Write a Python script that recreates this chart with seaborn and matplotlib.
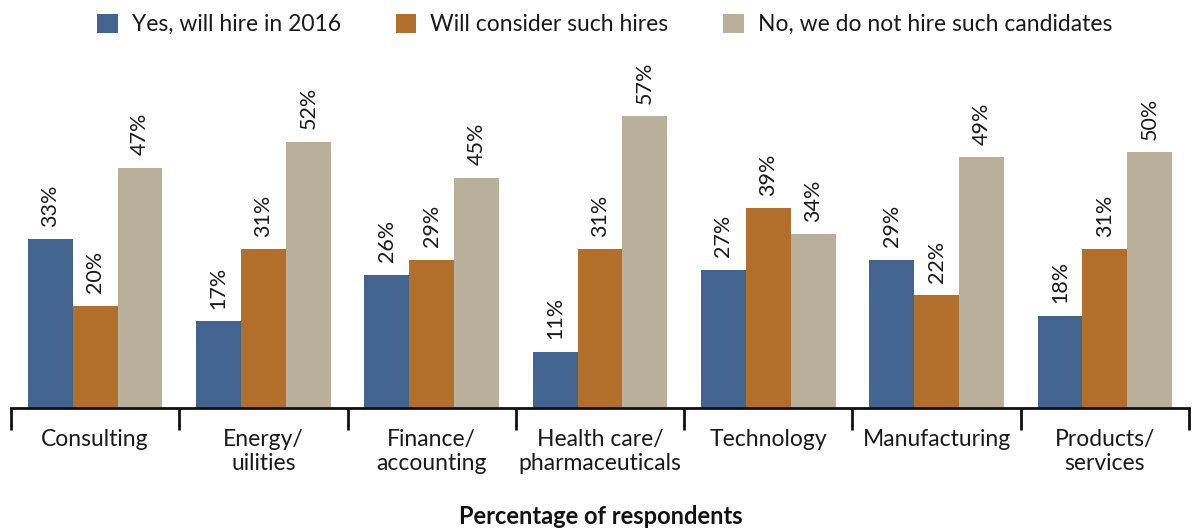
import matplotlib
matplotlib.use("Agg")
import matplotlib.pyplot as plt
import seaborn as sns
import pandas as pd
import numpy as np

categories = ["Consulting", "Energy/\nuilities", "Finance/\naccounting", "Health care/\npharmaceuticals",
              "Technology", "Manufacturing", "Products/\nservices"]
series = ["Yes, will hire in 2016", "Will consider such hires", "No, we do not hire such candidates"]
yes_vals = [33, 17, 26, 11, 27, 29, 18]
consider_vals = [20, 31, 29, 31, 39, 22, 31]
no_vals = [47, 52, 45, 57, 34, 49, 50]
colors = ["#43648e", "#b26e2b", "#b9b09c"]

rows = []
for s, vals in zip(series, [yes_vals, consider_vals, no_vals]):
    for c, v in zip(categories, vals):
        rows.append({"category": c, "series": s, "value": v})
df = pd.DataFrame(rows)

sns.set_theme(style="white")
plt.rcParams['font.family'] = ['Lato', 'DejaVu Sans']
plt.rcParams['xtick.bottom'] = True

fig = plt.figure(figsize=(11.92, 5.29), dpi=100)
ax = fig.add_axes([11/1192, (529-408)/529, 1178/1192, 353/529])
sns.barplot(data=df, x="category", y="value", hue="series", palette=colors,
            order=categories, hue_order=series, width=0.8, gap=0, saturation=1,
            linewidth=0, edgecolor="none", ax=ax, legend=True)

for cont in ax.containers:
    labels = [f"{int(round(b.get_height()))}%" for b in cont]
    ax.bar_label(cont, labels=labels, rotation=90, padding=9, fontsize=15.5, color="#1a1a1a")

ax.set_ylim(0, 69)
ax.set_xlim(-0.5, len(categories) - 0.5)
ax.set_yticks([])
ax.set_ylabel("")
for sp in ["top", "right", "left"]:
    ax.spines[sp].set_visible(False)
ax.spines["bottom"].set_linewidth(2)
ax.spines["bottom"].set_color("#111111")

ax.set_xticks(range(len(categories)))
ax.set_xticklabels(categories, fontsize=16.5, color="#1a1a1a", linespacing=1.2)
ax.tick_params(axis="x", which="major", length=0, pad=15, bottom=True)
ax.set_xticks(np.arange(-0.5, len(categories), 1), minor=True)
ax.tick_params(axis="x", which="minor", length=16, width=2, color="#111111",
               direction="out", bottom=True)
ax.set_xlabel("")
fig.text(0.504, (529 - 517) / 529, "Percentage of respondents",
         ha="center", va="center", fontsize=17, fontweight="bold", color="#111111")

leg = ax.legend(loc="upper center", bbox_to_anchor=(0.504, 1.175), ncol=3, frameon=False,
                fontsize=16.5, handlelength=0.9, handleheight=0.9, columnspacing=2.4,
                handletextpad=0.6)
for t in leg.get_texts():
    t.set_color("#1a1a1a")

fig.savefig("out.png", dpi=100)
